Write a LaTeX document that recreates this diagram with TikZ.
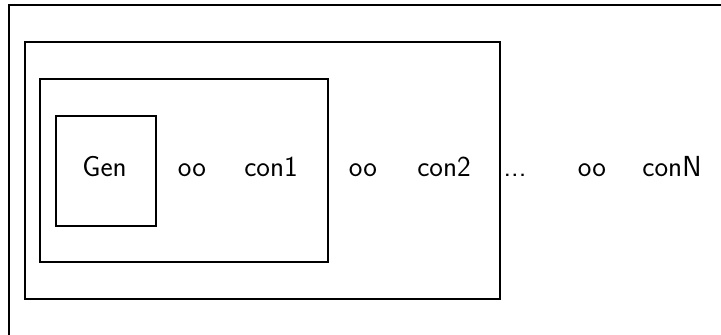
\documentclass[tikz,border=0pt]{standalone}
\begin{document}
\begin{tikzpicture}[x=1pt,y=-1pt,
  box/.style={draw, line width=2.2pt, anchor=north west, inner sep=0pt},
  lbl/.style={font=\sffamily\fontsize{29}{32}\selectfont, inner sep=0pt, anchor=base}]
\useasboundingbox (0,0) rectangle (721,335);
\clip (0,0) rectangle (721,335);
\node[box, minimum width=730, minimum height=340] (outer) at (8,4) {};
\node[box, minimum width=475, minimum height=257] (b2) at (24,41) {};
\node[box, minimum width=288, minimum height=183] (b3) at (39,78) {};
\node[box, minimum width=100, minimum height=110] (gen) at (55,115) {};
\node[lbl] (tgen) at (104.5,176) {Gen};
\node[lbl] (o1) at (192,176) {oo};
\node[lbl] (c1) at (271,176) {con1};
\node[lbl] (o2) at (363,176) {oo};
\node[lbl] (c2) at (444,176) {con2};
\node[lbl] (dots) at (515,176) {...};
\node[lbl] (o3) at (592,176) {oo};
\node[lbl] (cN) at (672,176) {conN};
\end{tikzpicture}
\end{document}
